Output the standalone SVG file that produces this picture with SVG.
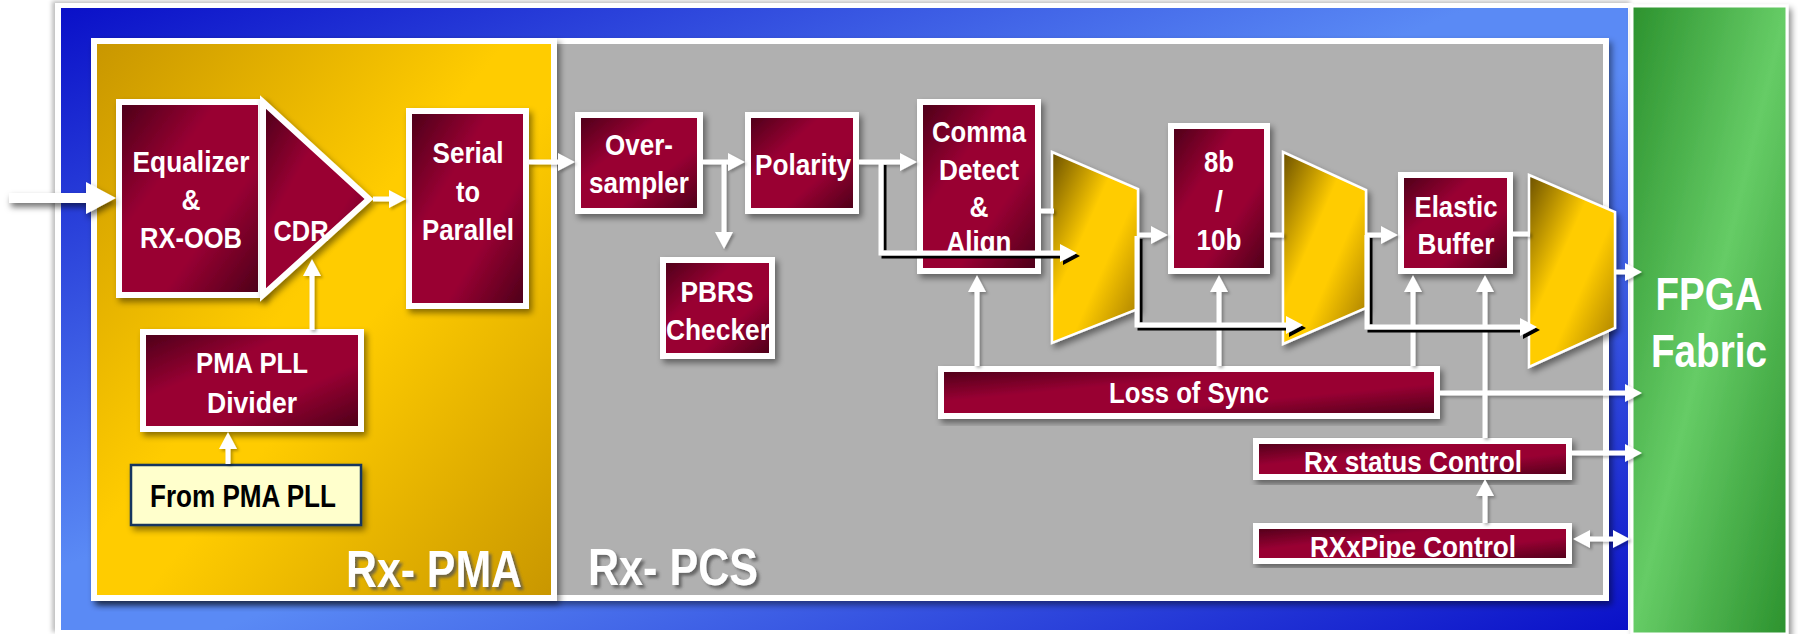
<svg xmlns="http://www.w3.org/2000/svg" width="1798" height="634" viewBox="0 0 1798 634">
<defs>
<linearGradient id="gBlue" x1="0" y1="0" x2="1" y2="1"><stop offset="0" stop-color="#0a10c8"/><stop offset="0.45" stop-color="#5a8af5"/><stop offset="0.55" stop-color="#5a8af5"/><stop offset="1" stop-color="#0a10c8"/></linearGradient>
<linearGradient id="gGold" x1="0" y1="0" x2="1" y2="1"><stop offset="0" stop-color="#c89600"/><stop offset="0.45" stop-color="#ffcc00"/><stop offset="0.55" stop-color="#ffcc00"/><stop offset="1" stop-color="#c89600"/></linearGradient>
<linearGradient id="gGreen" x1="0" y1="0" x2="1" y2="1"><stop offset="0" stop-color="#2c922e"/><stop offset="0.5" stop-color="#66cc66"/><stop offset="1" stop-color="#2c922e"/></linearGradient>
<linearGradient id="gMux" x1="0" y1="0" x2="1" y2="1"><stop offset="0" stop-color="#6b5000"/><stop offset="0.4" stop-color="#ffcc00"/><stop offset="0.6" stop-color="#ffcc00"/><stop offset="1" stop-color="#9c7400"/></linearGradient>
<linearGradient id="gMar" x1="0" y1="0" x2="1" y2="1"><stop offset="0" stop-color="#4a0018"/><stop offset="0.35" stop-color="#990033"/><stop offset="0.65" stop-color="#990033"/><stop offset="1" stop-color="#4a0018"/></linearGradient>
<filter id="sh" x="-10%" y="-10%" width="130%" height="130%"><feDropShadow dx="3" dy="4" stdDeviation="3" flood-color="#000" flood-opacity="0.45"/></filter>
<filter id="shL" x="-10%" y="-10%" width="130%" height="130%"><feDropShadow dx="2" dy="2" stdDeviation="1.5" flood-color="#000" flood-opacity="0.3"/></filter>
<filter id="shIn" filterUnits="userSpaceOnUse" x="0" y="165" width="140" height="70"><feDropShadow dx="2" dy="4" stdDeviation="3" flood-color="#000" flood-opacity="0.55"/></filter>
<filter id="shB" x="-10%" y="-10%" width="130%" height="130%"><feDropShadow dx="3" dy="3" stdDeviation="0.6" flood-color="#000" flood-opacity="1"/></filter>
<filter id="shT" x="-10%" y="-10%" width="130%" height="130%"><feDropShadow dx="3" dy="3" stdDeviation="1.5" flood-color="#555" flood-opacity="0.8"/></filter>
<filter id="shF" x="-5%" y="-5%" width="110%" height="110%"><feDropShadow dx="-3" dy="-2" stdDeviation="2" flood-color="#000" flood-opacity="0.25"/></filter>
<marker id="ah" markerUnits="userSpaceOnUse" markerWidth="18" markerHeight="18" refX="3" refY="9" orient="auto-start-reverse" overflow="visible"><path d="M0,0 L17,9 L0,18 z" fill="#fff"/></marker>
<marker id="ahB" markerUnits="userSpaceOnUse" markerWidth="32" markerHeight="32" refX="2" refY="16" orient="auto" overflow="visible"><path d="M0,0 L30,16 L0,32 z" fill="#fff"/></marker>
<style>
.box{fill:url(#gMar);stroke:#fff;stroke-width:6;filter:url(#sh)}
.mux{fill:url(#gMux);stroke:#fff;stroke-width:2.5;filter:url(#sh)}
.t{font-family:"Liberation Sans",Arial,sans-serif;font-weight:bold;fill:#fff;text-anchor:middle;font-size:30px}
.big{font-size:52px;filter:url(#shT)}
.c{fill:none;stroke:#fff;stroke-width:5;marker-end:url(#ah)}
.s{fill:none;stroke:#fff;stroke-width:5}
</style>
</defs>
<g id="background">
<rect x="55" y="3" width="1578" height="631" fill="#fff" filter="url(#shF)"/>
<rect x="61" y="8" width="1567" height="622" fill="url(#gBlue)"/>
</g>
<g id="fpga">
<rect x="1632" y="6" width="155" height="628" fill="url(#gGreen)" stroke="#fff" stroke-width="3" filter="url(#sh)"/>
<text class="t" x="1709" y="310" style="font-size:46px" textLength="107" lengthAdjust="spacingAndGlyphs">FPGA</text>
<text class="t" x="1709" y="367" style="font-size:46px" textLength="116" lengthAdjust="spacingAndGlyphs">Fabric</text>
</g>
<g id="rx-pcs">
<rect x="97" y="41" width="1509" height="557" fill="#b0b0b0" stroke="#fff" stroke-width="6" filter="url(#sh)"/>
<text class="t big" x="673" y="585" textLength="170" lengthAdjust="spacingAndGlyphs">Rx- PCS</text>
</g>
<g id="rx-pma">
<rect x="94" y="41" width="460" height="557" fill="url(#gGold)" stroke="#fff" stroke-width="6" filter="url(#sh)"/>
<text class="t big" x="434" y="587" textLength="176" lengthAdjust="spacingAndGlyphs">Rx- PMA</text>
</g>
<g id="equalizer">
<rect class="box" x="119" y="102" width="142" height="193"/>
<text class="t" x="191" y="172" textLength="117" lengthAdjust="spacingAndGlyphs">Equalizer</text>
<text class="t" x="191" y="210" textLength="19" lengthAdjust="spacingAndGlyphs">&amp;</text>
<text class="t" x="191" y="248" textLength="102" lengthAdjust="spacingAndGlyphs">RX-OOB</text>
</g>
<g id="cdr">
<polygon class="box" points="263,102 369,199 263,295"/>
<text class="t" x="301" y="241" textLength="55" lengthAdjust="spacingAndGlyphs">CDR</text>
</g>
<g id="serial-to-parallel">
<rect class="box" x="409" y="111" width="117" height="195"/>
<text class="t" x="468" y="163" textLength="71" lengthAdjust="spacingAndGlyphs">Serial</text>
<text class="t" x="468" y="202" textLength="24" lengthAdjust="spacingAndGlyphs">to</text>
<text class="t" x="468" y="240" textLength="92" lengthAdjust="spacingAndGlyphs">Parallel</text>
</g>
<g id="pma-pll-divider">
<rect class="box" x="143" y="332" width="218" height="97"/>
<text class="t" x="252" y="373" textLength="112" lengthAdjust="spacingAndGlyphs">PMA PLL</text>
<text class="t" x="252" y="413" textLength="90" lengthAdjust="spacingAndGlyphs">Divider</text>
</g>
<g id="from-pma-pll">
<rect x="131" y="465" width="230" height="60" fill="#ffffcc" stroke="#12365e" stroke-width="2.5" filter="url(#sh)"/>
<text class="t" x="243" y="507" style="fill:#000;font-size:31px" textLength="186" lengthAdjust="spacingAndGlyphs">From PMA PLL</text>
</g>
<g id="oversampler">
<rect class="box" x="578" y="115" width="122" height="96"/>
<text class="t" x="639" y="155" textLength="68" lengthAdjust="spacingAndGlyphs">Over-</text>
<text class="t" x="639" y="193" textLength="100" lengthAdjust="spacingAndGlyphs">sampler</text>
</g>
<g id="pbrs-checker">
<rect class="box" x="663" y="260" width="109" height="96"/>
<text class="t" x="717" y="302" textLength="73" lengthAdjust="spacingAndGlyphs">PBRS</text>
<text class="t" x="718" y="340" textLength="104" lengthAdjust="spacingAndGlyphs">Checker</text>
</g>
<g id="polarity">
<rect class="box" x="748" y="115" width="108" height="96"/>
<text class="t" x="803" y="175" textLength="96" lengthAdjust="spacingAndGlyphs">Polarity</text>
</g>
<g id="comma-detect-align">
<rect class="box" x="920" y="102" width="118" height="169"/>
<text class="t" x="979" y="142" textLength="94" lengthAdjust="spacingAndGlyphs">Comma</text>
<text class="t" x="979" y="180" textLength="80" lengthAdjust="spacingAndGlyphs">Detect</text>
<text class="t" x="979" y="217" textLength="19" lengthAdjust="spacingAndGlyphs">&amp;</text>
<text class="t" x="979" y="252" textLength="65" lengthAdjust="spacingAndGlyphs">Align</text>
</g>
<g id="mux1"><polygon class="mux" points="1052,152 1138,189 1138,309 1052,343"/></g>
<g id="enc-8b10b">
<rect class="box" x="1171" y="126" width="96" height="145"/>
<text class="t" x="1219" y="172" textLength="30" lengthAdjust="spacingAndGlyphs">8b</text>
<text class="t" x="1219" y="212" textLength="8" lengthAdjust="spacingAndGlyphs">/</text>
<text class="t" x="1219" y="250" textLength="45" lengthAdjust="spacingAndGlyphs">10b</text>
</g>
<g id="mux2"><polygon class="mux" points="1283,152 1366,190 1366,308 1283,344"/></g>
<g id="elastic-buffer">
<rect class="box" x="1401" y="175" width="109" height="96"/>
<text class="t" x="1456" y="217" textLength="83" lengthAdjust="spacingAndGlyphs">Elastic</text>
<text class="t" x="1456" y="254" textLength="77" lengthAdjust="spacingAndGlyphs">Buffer</text>
</g>
<g id="mux3"><polygon class="mux" points="1529,175 1615,212 1615,328 1529,367"/></g>
<g id="loss-of-sync">
<rect class="box" x="941" y="369" width="496" height="47"/>
<text class="t" x="1189" y="403" textLength="160" lengthAdjust="spacingAndGlyphs">Loss of Sync</text>
</g>
<g id="rx-status-control">
<rect class="box" x="1256" y="441" width="313" height="36"/>
<text class="t" x="1413" y="472" textLength="218" lengthAdjust="spacingAndGlyphs">Rx status Control</text>
</g>
<g id="rxxpipe-control">
<rect class="box" x="1256" y="526" width="313" height="35"/>
<text class="t" x="1413" y="557" textLength="206" lengthAdjust="spacingAndGlyphs">RXxPipe Control</text>
</g>
<g id="connectors">
<path d="M9,198 H88" fill="none" stroke="#fff" stroke-width="10" marker-end="url(#ahB)" filter="url(#shIn)"/>
<g filter="url(#shL)">
<path class="c" d="M373,199 H392"/>
<path class="c" d="M312,330 V273"/>
<path class="c" d="M228,464 V446"/>
<path class="c" d="M529,162 H561"/>
<path class="c" d="M703,162 H731"/>
<path class="c" d="M724,162 V235"/>
<path class="c" d="M859,162 H903"/>
<path class="s" d="M1041,211 H1054"/>
<path class="c" d="M1138,235 H1154"/>
<path class="s" d="M1270,235 H1284"/>
<path class="c" d="M1366,235 H1384"/>
<path class="s" d="M1513,234 H1530"/>
<path class="c" d="M1615,272 H1628"/>
<path class="c" d="M977,366 V289"/>
<path class="c" d="M1219,366 V289"/>
<path class="c" d="M1413,366 V289"/>
<path class="c" d="M1485,438 V289"/>
<path class="c" d="M1440,393 H1628"/>
<path class="c" d="M1572,453 H1628"/>
<path class="c" d="M1485,523 V493"/>
<path class="c" d="M1587,539 H1616" marker-start="url(#ah)"/>
</g>
<g filter="url(#shB)">
<path class="c" d="M881,162 V253 H1063"/>
<path class="c" d="M1137,236 V325 H1289"/>
<path class="c" d="M1367,235 V327 H1523"/>
</g>
</g>
</svg>
